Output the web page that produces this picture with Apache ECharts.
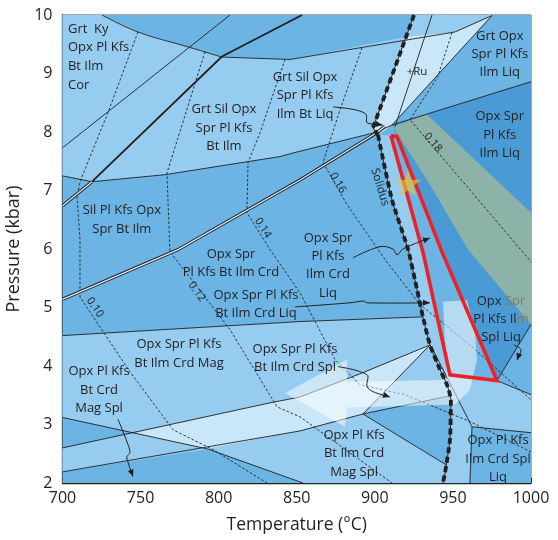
<!DOCTYPE html>
<html><head><meta charset="utf-8">
<script src="https://cdn.jsdelivr.net/npm/echarts@6/dist/echarts.min.js"></script>
<style>html,body{margin:0;padding:0;background:#fff}#c{width:558px;height:540px}</style>
</head><body><div id="c"></div>
<script>
// ---- axes ----
const tempRange = [700, 1000];
const pressRange = [2, 10];

// ---- field polygons [T (°C), P (kbar)] ----
const plotArea = [[700,2],[1000,2],[1000,10],[700,10]];
const fieldGrtSil = [[700,10],[725.3,10],[748.3,9.71],[779.7,9.46],[802.1,9.28],[845.7,9.24],[919.9,9.63],[898.8,8.07],[900.1,7.99],[848.9,7.65],[839.3,7.58],[765.6,7.27],[718.9,7.15],[700,7.25]];
const fieldTopRidge = [[925.1,10],[975,10],[975,9.99],[951.3,9.71],[919.9,9.63]];
const fieldRu = [[919.9,9.63],[951.3,9.71],[975,9.99],[911,8.12],[902,7.95],[898.8,8.07]];
const fieldOpxSprLiq = [[911,8.12],[1000,8.86],[1000,4.71],[978.2,3.75],[943,5.95],[914.2,7.92]];
const fieldGreen = [[911.6,8.09],[933.4,8.30],[1000,6.62],[1000,4.71],[959.7,5.99],[935.3,7.10]];
const fieldSolidusStrip = [[902,7.95],[911,6.84],[921.3,5.99],[927,5.31],[930.8,4.84],[935.3,4.36],[941.7,3.94],[948.1,3.85],[930.8,5.95],[910.3,7.94]];
const fieldCrdMag = [[700,4.52],[852.1,4.76],[930.8,4.84],[935.3,4.36],[891.8,3.88],[852.1,3.47],[832.9,3.37],[745.1,2.86],[700,3.12]];
const fieldBandLeft = [[700,2.60],[745.1,2.86],[793.2,2.58],[700,2.19]];
const fieldBandPale = [[745.1,2.86],[832.9,3.37],[852.1,3.47],[891.8,3.88],[935.3,4.36],[892.4,3.18],[852.1,2.89],[793.2,2.58]];
const fieldLowLight = [[793.2,2.58],[852.1,2.89],[892.4,3.18],[945.7,2.31],[943.6,2],[854,2]];
const fieldWedge = [[892.4,3.18],[935.3,4.36],[941.7,3.94],[946.2,3.68],[948,3.49]];
const fieldSupraLow = [[941.7,3.94],[948.1,3.85],[978.2,3.75],[1000,3.51],[1000,2.86],[962.2,2.96],[960.9,2],[943.6,2],[944.9,2.17],[948.1,2.74],[948.7,3.42],[946.2,3.68]];

// ---- field boundaries ----
const bKyCurve = [[725.3,10],[748.3,9.71],[779.7,9.46],[802.1,9.28]];
const bTopLine = [[802.1,9.28],[845.7,9.24],[951.3,9.71],[975,9.99]];
const bThickLow = [[700,6.74],[718.9,7.15]];
const bThick = [[718.9,7.15],[802.1,9.29],[853.4,10]];
const bThin = [[700,7.73],[807.3,10]];
const bSil = [[700,7.25],[718.9,7.15],[765.6,7.27],[839.3,7.58],[848.9,7.65],[900.1,7.99],[911,8.12],[1000,8.86]];
const bDouble = [[700,5.14],[774,5.99],[852.1,7.18],[901.4,7.99],[906.5,8.10]];
const bLiq = [[700,4.52],[852.1,4.76],[930.8,4.84]];
const bLineA = [[700,3.12],[793.2,2.58],[854,2]];
const bLineB = [[700,2.60],[832.9,3.37],[852.1,3.47],[891.8,3.88],[935.3,4.36]];
const bLineC = [[700,2.19],[852.1,2.89],[892.4,3.18]];
const bQup = [[892.4,3.18],[935.3,4.36]];
const bQright = [[892.4,3.18],[948,3.49]];
const bQlow = [[892.4,3.18],[945.7,2.31]];
const bRuRight = [[975,9.99],[911,8.12]];
const bRuThin = [[936.6,10],[912.9,8.09]];
const bR1 = [[937.2,4.28],[962.2,2.96]];
const bR2 = [[962.2,2.96],[1000,2.86]];
const bR3 = [[962.2,2.96],[960.9,2]];
const bCorner1 = [[978.2,3.75],[1000,4.71]];
const bCorner2 = [[978.2,3.75],[1000,3.51]];

// ---- solidus & upper thick dashed ----
const upperDashed = [[925.1,10],[898.8,8.07],[902,7.95]];
const solidus = [[902,7.95],[911,6.84],[921.3,5.99],[927,5.31],[930.8,4.84],[935.3,4.36],[941.7,3.94],[946.2,3.68],[948.7,3.42],[948.1,2.74],[944.9,2.17],[943.6,2]];

// ---- isopleths ----
const iso010 = [[748.3,9.71],[729.1,8.33],[711.2,7.15],[709.3,6.89],[711.2,6.16],[711.2,5.18],[743.2,3.90],[770.8,2.91],[796.4,2.57],[831,2]];
const iso012 = [[791.2,9.37],[766.9,7.30],[768.8,5.95],[786.1,5.36],[807.3,4.62],[837.4,3.30],[852.1,3.13],[911,2]];
const iso014 = [[842.5,9.24],[826.5,7.99],[818.8,7.48],[818.1,6.62],[832.9,5.99],[852.1,5.25],[874.5,4.11],[890.5,3.68],[919.3,3.51],[960.9,3.05],[1000,2.53]];
const iso016 = [[891.8,9.44],[877.7,8.38],[866.8,7.48],[882.2,6.76],[906.5,5.82],[928.9,5.05],[960.9,4.36],[1000,3.42]];
const iso018 = [[949.4,9.70],[940.4,8.95],[922.5,8.21],[960.9,7.01],[1000,5.78]];

// ---- P-T path, sample & arrow ----
const redPath = [[910.3,7.94],[930.8,5.95],[948.1,3.85],[978.2,3.75],[943,5.95],[914.2,7.92],[910.3,7.94]];
const starPoint = [[921.3,7.13]];
const whiteArrow = [[943.6,5.10],[959,5.13],[964.1,4.62],[965.4,4.11],[960.9,3.59],[951.3,3.34],[882.2,3.29],[880.9,2.96],[842.5,3.54],[882.2,4.11],[882.2,3.73],[946.2,3.76],[944.9,4.45]];

// ---- leader arrows ----
const leaders = [
  [[873.2,8.43],[887.3,8.38],[894.4,8.30],[895,8.16],[905,8.12]],
  [[886,5.85],[903.3,6.04],[911.6,6.0],[914.2,5.90],[918,6.0],[935.3,6.19]],
  [[848.9,5.01],[884,5.08],[893,5.11],[895,5.08],[935.3,5.08]],
  [[876.4,3.99],[895,3.85],[895,3.65],[899,3.56],[909.7,3.47]],
  [[735.5,3.09],[741.2,2.71],[743.2,2.52],[741.2,2.45],[741.9,2.36],[745.1,2.11]],
  [[989,4.36],[993.5,4.28],[991,4.10]]
];

// ---- text ----
const fieldLabels = [
  {t:'Grt  Ky\nOpx Pl Kfs\nBt Ilm\nCor', at:[703.5,9.28], a:'left', lh:18.7},
  {t:'Grt Sil Opx\nSpr Pl Kfs\nBt Ilm', at:[803.4,8.07]},
  {t:'Grt Sil Opx\nSpr Pl Kfs\nIlm Bt Liq', at:[855.3,8.62]},
  {t:'Grt Opx\nSpr Pl Kfs\nIlm Liq', at:[980,9.33]},
  {t:'Opx Spr\nPl Kfs\nIlm Liq', at:[980,7.95]},
  {t:'+Ru', at:[927,9.03], fs:11.5},
  {t:'Sil Pl Kfs Opx\nSpr Bt Ilm', at:[738,6.50]},
  {t:'Opx Spr\nPl Kfs Bt Ilm Crd', at:[807.9,5.76]},
  {t:'Opx Spr Pl Kfs\nBt Ilm Crd Liq', at:[823.9,5.06]},
  {t:'Opx Spr\nPl Kfs\nIlm Crd\nLiq', at:[870,5.72]},
  {t:'Opx Spr Pl Kfs\nBt Ilm Crd Mag', at:[774.6,4.21]},
  {t:'Opx Spr Pl Kfs\nBt Ilm Crd Spl', at:[848.9,4.13]},
  {t:'Opx Pl Kfs\nBt Crd\nMag Spl', at:[723.4,3.59]},
  {t:'Opx Pl Kfs\nBt Ilm Crd\nMag Spl', at:[886.7,2.50]},
  {t:'Opx Pl Kfs\nIlm Crd Spl\nLiq', at:[978.9,2.41]},
  {t:'Opx {g|Spr}\nPl Kfs Il{g|m}\nSpl Liq', at:[980.8,4.80]},
  {t:'Solidus', at:[903.3,7.06], rot:-73, fs:11.5},
  {t:'0.10', at:[720.8,5.0], rot:-56, fs:11},
  {t:'0.12', at:[786.1,5.27], rot:-54, fs:11},
  {t:'0.14', at:[828.4,6.36], rot:-58, fs:11},
  {t:'0.16', at:[876.4,7.13], rot:-60, fs:11},
  {t:'0.18', at:[937.2,7.82], rot:-50, fs:11}
];

// ---- colours ----
const C_MED='#6BB4E4', C_LIGHT='#96CCEF', C_DEEP='#4A9BD5', C_PALE='#C9E7F8', C_GREEN='#8DB3A8', INK='#231F20';
const FONT="'Open Sans', 'Noto Sans', sans-serif";

function poly(pts, color, z, opacity){
  return {type:'custom', z:z, silent:true, clip:true, animation:false,
    data:[pts[0]],
    renderItem:function(params, api){
      return {type:'polygon', shape:{points:pts.map(function(p){return api.coord(p);})},
        style:{fill:color, opacity:(opacity==null?1:opacity)}};
    }};
}
function line(pts, color, width, type, z, smooth){
  return {type:'line', data:pts, showSymbol:false, symbol:'none', silent:true, z:z, smooth:smooth||false,
    animation:false, clip:true, lineStyle:{color:color, width:width, type:type||'solid', cap:'butt', join:'miter'}};
}
function leader(pts){
  return {type:'custom', z:12, silent:true, animation:false, data:[pts[0]],
    renderItem:function(params, api){
      const c=pts.map(function(q){return api.coord(q);});
      const a=c[c.length-2], b=c[c.length-1];
      const ang=Math.atan2(b[1]-a[1], b[0]-a[0]);
      const L=7, W=3;
      const h=[b,[b[0]-L*Math.cos(ang)+W*Math.sin(ang), b[1]-L*Math.sin(ang)-W*Math.cos(ang)],
                 [b[0]-L*Math.cos(ang)-W*Math.sin(ang), b[1]-L*Math.sin(ang)+W*Math.cos(ang)]];
      return {type:'group', children:[
        {type:'polyline', shape:{points:c, smooth:0.35}, style:{stroke:INK, lineWidth:1, fill:null}},
        {type:'polygon', shape:{points:h}, style:{fill:INK}}]};
    }};
}

const series=[];
series.push(poly(plotArea, C_MED, 1));
[[fieldGrtSil,C_LIGHT],[fieldTopRidge,C_LIGHT],[fieldRu,C_PALE],[fieldOpxSprLiq,C_DEEP],
 [fieldSolidusStrip,C_LIGHT],[fieldCrdMag,C_LIGHT],[fieldBandLeft,C_LIGHT],[fieldBandPale,C_PALE],
 [fieldLowLight,C_LIGHT],[fieldWedge,C_LIGHT],[fieldSupraLow,C_LIGHT]].forEach(function(f){series.push(poly(f[0],f[1],2));});
series.push(poly(fieldGreen, C_GREEN, 3));

[bKyCurve,bTopLine,bThin,bSil,bLiq,bLineA,bLineB,bLineC,bQup,bQright,bQlow,bRuRight,bRuThin,bR1,bR2,bR3,bCorner1,bCorner2]
  .forEach(function(b){series.push(line(b, INK, 0.9, 'solid', 5, b===bKyCurve?0.4:false));});
series.push(line(bThick, INK, 1.8, 'solid', 5));
series.push(line(bThickLow, INK, 3.2, 'solid', 5));
series.push(line(bThickLow, '#D8EEF9', 1.3, 'solid', 6));
series.push(line(bDouble, INK, 3.2, 'solid', 5));
series.push(line(bDouble, '#D8EEF9', 1.3, 'solid', 6));
[iso010,iso012,iso014,iso016,iso018].forEach(function(s){series.push(line(s, INK, 0.9, [2.5,2], 5));});

series.push(poly(whiteArrow, '#FFFFFF', 7, 0.5));

series.push(line(solidus, INK, 1, 'solid', 8, 0.2));
series.push(line(solidus, INK, 3.8, [6,3.5], 8, 0.2));
series.push(line(upperDashed, INK, 1, 'solid', 8));
series.push(line(upperDashed, INK, 3.8, [6,3.5], 8));

series.push(line(redPath, '#EC2227', 3.6, 'solid', 9));
series.push({type:'scatter', data:starPoint, z:10, silent:true, animation:false,
  symbol:'path://M50,0 L61.8,35.3 L98.9,35.3 L68.9,57.1 L80.3,92.5 L50,70.6 L19.7,92.5 L31.1,57.1 L1.1,35.3 L38.2,35.3 Z',
  symbolSize:27, itemStyle:{color:'rgba(245,196,40,0.78)'}});

leaders.forEach(function(l){series.push(leader(l));});

series.push({type:'custom', z:15, silent:true, animation:false, data:fieldLabels.map(function(l){return l.at;}),
  renderItem:function(params, api){
    const l=fieldLabels[params.dataIndex];
    const c=api.coord(l.at);
    const fs=l.fs||13;
    return {type:'text', x:c[0], y:c[1], rotation:(l.rot||0)*Math.PI/180,
      style:{text:l.t, fill:INK, fontSize:fs, fontFamily:FONT, align:l.a||'center', verticalAlign:'middle',
        lineHeight:l.lh||18.3,
        rich:{g:{fill:'#7F7D5C', fontSize:fs, fontFamily:FONT, lineHeight:l.lh||18.3}}}};
  }});

const chart=echarts.init(document.getElementById('c'), null, {renderer:'canvas'});
chart.setOption({
  animation:false,
  backgroundColor:'#ffffff',
  grid:{left:62.5, right:27, top:15, bottom:57, show:true, borderColor:'#555', borderWidth:1, backgroundColor:'transparent', outerBoundsMode:'none', containLabel:false},
  xAxis:{type:'value', min:tempRange[0], max:tempRange[1], interval:50,
    name:'Temperature (°C)', nameLocation:'middle', nameGap:33,
    nameTextStyle:{fontSize:17.5, color:INK, fontFamily:FONT},
    axisLine:{show:true, onZero:false, lineStyle:{color:INK, width:1.3}},
    axisTick:{show:true, inside:true, length:5, lineStyle:{color:INK, width:1}},
    minorTick:{show:true, splitNumber:5, length:4, lineStyle:{color:INK, width:0.8}},
    axisLabel:{fontSize:16, color:INK, fontFamily:FONT, margin:7, showMaxLabel:true, showMinLabel:true, hideOverlap:false,
      formatter:function(v){return String(v);}},
    splitLine:{show:false}, minorSplitLine:{show:false}},
  yAxis:{type:'value', min:pressRange[0], max:pressRange[1], interval:1,
    name:'Pressure (kbar)', nameLocation:'middle', nameGap:34,
    nameTextStyle:{fontSize:18, color:INK, fontFamily:FONT},
    axisLine:{show:true, onZero:false, lineStyle:{color:INK, width:1.3}},
    axisTick:{show:true, inside:true, length:5, lineStyle:{color:INK, width:1}},
    minorTick:{show:true, splitNumber:5, length:4, lineStyle:{color:INK, width:0.8}},
    axisLabel:{fontSize:16, color:INK, fontFamily:FONT, margin:10, showMaxLabel:true, showMinLabel:true, hideOverlap:false,
      formatter:function(v){return String(v);}},
    splitLine:{show:false}, minorSplitLine:{show:false}},
  series:series
});
</script>
</body></html>
